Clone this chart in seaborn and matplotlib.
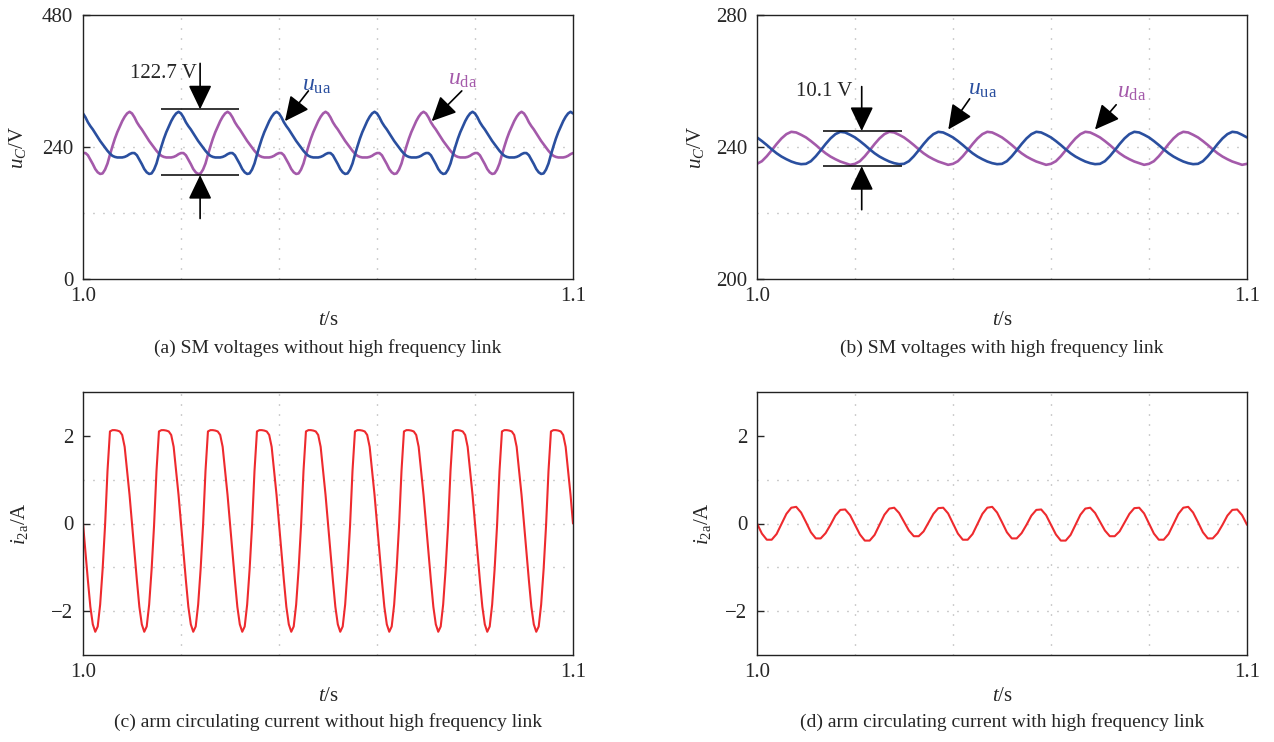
import numpy as np
import pandas as pd
import matplotlib
matplotlib.use("Agg")
import matplotlib.pyplot as plt
import seaborn as sns

# ------------------------------------------------------------------ data
T_START, T_END = 1.0, 1.1

# (a) SM voltages without HF link, one 20 ms period sampled every 0.5 ms (from t = 1.0)
step_a = 0.0005
ua_a = [301, 294, 285, 278, 272, 265, 258, 251, 245, 239, 233, 228, 224, 222, 221, 221,
        221, 222, 224, 227, 229, 229, 225, 217, 209, 200, 194, 191, 192, 199, 210, 226,
        241, 255, 267, 277, 287, 295, 301, 304]
da_a = [229, 229, 225, 217, 209, 200, 194, 191, 192, 199, 210, 226, 241, 255, 267, 277,
        287, 295, 301, 304, 301, 294, 285, 278, 272, 265, 258, 251, 245, 239, 233, 228,
        224, 222, 221, 221, 221, 222, 224, 227]

# (b) SM voltages with HF link, one 20 ms period sampled every 1 ms (from t = 1.0)
step_b = 0.001
ua_b = [242.9, 241.8, 240.6, 239.3, 238.1, 237.1, 236.3, 235.6, 235.1, 234.8,
        234.9, 235.7, 237.2, 239.0, 240.9, 242.6, 243.9, 244.6, 244.4, 243.7]
da_b = [234.9, 235.7, 237.2, 239.0, 240.9, 242.6, 243.9, 244.6, 244.4, 243.7,
        242.9, 241.8, 240.6, 239.3, 238.1, 237.1, 236.3, 235.6, 235.1, 234.6]

# (c) arm circulating current without HF link, one 10 ms period every 0.5 ms
step_c = 0.0005
i2a_c = [0.0, -0.65, -1.3, -1.9, -2.3, -2.47, -2.35, -1.85, -1.05, -0.05,
         1.2, 2.1, 2.13, 2.13, 2.12, 2.10, 2.02, 1.75, 1.2, 0.65]

# (d) arm circulating current with HF link, 40 ms pattern every 1 ms
step_d = 0.001
i2a_d = [0.00, -0.23, -0.37, -0.37, -0.24, -0.01, 0.22, 0.36, 0.38, 0.25,
         0.03, -0.20, -0.34, -0.34, -0.22, -0.03, 0.18, 0.31, 0.32, 0.19,
         -0.03, -0.25, -0.39, -0.39, -0.26, -0.03, 0.20, 0.34, 0.36, 0.24,
         0.04, -0.16, -0.29, -0.29, -0.18, 0.02, 0.22, 0.35, 0.36, 0.23]

# axis settings
yticks_a, ylim_a, grid_y_a = [0, 240, 480], (0, 480), [120, 240]
yticks_b, ylim_b, grid_y_b = [200, 240, 280], (200, 280), [220, 240]
yticks_i, ylim_i, grid_y_i = [-2, 0, 2], (-3, 3), [-2, -1, 0, 1]
grid_x = [1.02, 1.04, 1.06, 1.08]

captions = ["(a) SM voltages without high frequency link",
            "(b) SM voltages with high frequency link",
            "(c) arm circulating current without high frequency link",
            "(d) arm circulating current with high frequency link"]

# annotations (data coordinates)
ripple_a = dict(text="122.7 V", top=308.5, bottom=189.0, x=1.0239, x0=1.0160, x1=1.0319,
                tail_top=392, tail_bot=110, tx=1.0233, ty=374)
ripple_b = dict(text="10.1 V", top=244.85, bottom=234.2, x=1.02137, x0=1.0135, x1=1.0295,
                tail_top=258.3, tail_bot=221, tx=1.0194, ty=256.7)
lab_a = dict(ua_txt=(1.0447, 352), ua_tail=(1.04600, 342), ua_tip=(1.04122, 287),
             da_txt=(1.0745, 363), da_tail=(1.07730, 342), da_tip=(1.07116, 287))
lab_b = dict(ua_txt=(1.0431, 257.3), ua_tail=(1.0434, 254.6), ua_tip=(1.03904, 245.3),
             da_txt=(1.0734, 256.6), da_tail=(1.07330, 252.8), da_tip=(1.06898, 245.3))

BLUE = "#2A4F9F"
MAGENTA = "#A45AAA"
RED = "#EE2A2E"
GRID = "#9A9A9A"


def series(period, step):
    n = int(round((T_END - T_START) / step)) + 1
    t = T_START + step * np.arange(n)
    return t, np.resize(np.asarray(period, float), n)


# ------------------------------------------------------------------ style
sns.set_style("ticks")
plt.rcParams["font.family"] = ["Liberation Serif", "DejaVu Serif"]
plt.rcParams["mathtext.fontset"] = "custom"
plt.rcParams["mathtext.rm"] = "Liberation Serif"
plt.rcParams["mathtext.it"] = "Liberation Serif:italic"
plt.rcParams["axes.unicode_minus"] = True

fig = plt.figure(figsize=(12.74, 7.42), dpi=100)
W, H = 1274, 742


def add_ax(left, top, right, bottom):
    return fig.add_axes([left / W, 1 - bottom / H, (right - left) / W, (bottom - top) / H])


ax_a = add_ax(83, 15, 573, 279)
ax_b = add_ax(757, 15, 1247, 279)
ax_c = add_ax(83, 392, 573, 655)
ax_d = add_ax(757, 392, 1247, 655)

dots = (0, (0.7, 6.5))
FS = 15


def style_axis(ax, yticks, ylim, grid_y, ylabel, ylab_x):
    ax.set_xlim(T_START, T_END)
    ax.set_ylim(*ylim)
    for gx in grid_x:
        ax.axvline(gx, color=GRID, lw=1.0, linestyle=dots, zorder=0)
    for gy in grid_y:
        ax.axhline(gy, color=GRID, lw=1.0, linestyle=dots, zorder=0)
    ax.set_xticks([T_START, T_END])
    ax.set_xticklabels(["1.0", "1.1"])
    ax.set_yticks(yticks)
    ax.set_yticklabels([f"{v:g}".replace("-", "\u2212") for v in yticks])
    ax.tick_params(axis="x", length=0, pad=6, labelsize=FS)
    ax.tick_params(axis="y", direction="in", length=5, width=1, pad=7, labelsize=FS,
                   left=True, right=False)
    for s in ax.spines.values():
        s.set_linewidth(1.0)
        s.set_color("#222222")
    ax.set_xlabel(r"$t$/s", fontsize=FS)
    ax.xaxis.set_label_coords(0.5, -0.122)
    ax.set_ylabel(ylabel, fontsize=FS)
    ax.yaxis.set_label_coords(ylab_x, 0.5)


def plot_series(ax, period, step, color, lw):
    t, v = series(period, step)
    df = pd.DataFrame({"t": t, "v": v})
    sns.lineplot(data=df, x="t", y="v", ax=ax, color=color, lw=lw, estimator=None,
                 sort=False, legend=False)
    ax.set_xlabel("")
    ax.set_ylabel("")


plot_series(ax_a, da_a, step_a, MAGENTA, 1.9)
plot_series(ax_a, ua_a, step_a, BLUE, 1.9)
plot_series(ax_b, da_b, step_b, MAGENTA, 1.9)
plot_series(ax_b, ua_b, step_b, BLUE, 1.9)
plot_series(ax_c, i2a_c, step_c, RED, 1.5)
plot_series(ax_d, i2a_d, step_d, RED, 1.5)

style_axis(ax_a, yticks_a, ylim_a, grid_y_a, r"$u_C$/V", -0.113)
style_axis(ax_b, yticks_b, ylim_b, grid_y_b, r"$u_C$/V", -0.105)
style_axis(ax_c, yticks_i, ylim_i, grid_y_i, r"$i_{2\mathrm{a}}$/A", -0.108)
style_axis(ax_d, yticks_i, ylim_i, grid_y_i, r"$i_{2\mathrm{a}}$/A", -0.09)

arrow_kw = dict(arrowstyle="-|>,head_length=0.75,head_width=0.36", color="black",
                lw=1.2, mutation_scale=20, shrinkA=0, shrinkB=0)


def ripple(ax, r):
    ax.hlines([r["top"], r["bottom"]], r["x0"], r["x1"], colors="black", lw=1.1, zorder=4)
    ax.annotate("", xy=(r["x"], r["top"]), xytext=(r["x"], r["tail_top"]), arrowprops=arrow_kw)
    ax.annotate("", xy=(r["x"], r["bottom"]), xytext=(r["x"], r["tail_bot"]), arrowprops=arrow_kw)
    ax.text(r["tx"], r["ty"], r["text"], ha="right", va="center", fontsize=FS)


def labels(ax, L):
    ax.text(*L["ua_txt"], r"$u_{\mathrm{ua}}$", color=BLUE, fontsize=17, ha="left", va="center")
    ax.text(*L["da_txt"], r"$u_{\mathrm{da}}$", color=MAGENTA, fontsize=17, ha="left", va="center")
    ax.annotate("", xy=L["ua_tip"], xytext=L["ua_tail"], arrowprops=arrow_kw)
    ax.annotate("", xy=L["da_tip"], xytext=L["da_tail"], arrowprops=arrow_kw)


ripple(ax_a, ripple_a)
ripple(ax_b, ripple_b)
labels(ax_a, lab_a)
labels(ax_b, lab_b)

cap_x = [328 / W, 1002 / W, 328 / W, 1002 / W]
cap_y = [1 - 348 / H, 1 - 348 / H, 1 - 722 / H, 1 - 722 / H]
for cx, cy, c in zip(cap_x, cap_y, captions):
    fig.text(cx, cy, c, ha="center", va="center", fontsize=14)

fig.savefig("out.png", dpi=100)
